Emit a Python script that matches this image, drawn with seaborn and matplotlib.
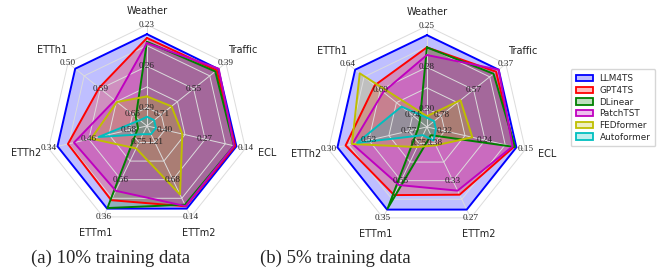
import numpy as np
import pandas as pd
import matplotlib
matplotlib.use("Agg")
import matplotlib.pyplot as plt
import seaborn as sns
from matplotlib.patches import Patch
from matplotlib.colors import to_rgba

datasets = ["Weather", "Traffic", "ECL", "ETTm2", "ETTm1", "ETTh2", "ETTh1"]
models = ["LLM4TS", "GPT4TS", "DLinear", "PatchTST", "FEDformer", "Autoformer"]
colors = ["#0000ff", "#ff0000", "#008000", "#bf00bf", "#bfbf00", "#00bfbf"]

# average MSE per dataset, 10% training data
llm4ts_10 = [0.235, 0.432, 0.172, 0.260, 0.408, 0.366, 0.524]
gpt4ts_10 = [0.238, 0.440, 0.176, 0.293, 0.452, 0.397, 0.590]
dlinear_10 = [0.241, 0.447, 0.180, 0.316, 0.411, 0.605, 0.691]
patchtst_10 = [0.242, 0.430, 0.180, 0.296, 0.501, 0.415, 0.633]
fedformer_10 = [0.284, 0.663, 0.346, 0.463, 0.722, 0.466, 0.639]
autoformer_10 = [0.300, 0.749, 0.431, 1.330, 0.796, 0.488, 0.702]

# average MSE per dataset, 5% training data
llm4ts_5 = [0.256, 0.418, 0.173, 0.286, 0.394, 0.353, 0.651]
gpt4ts_5 = [0.264, 0.434, 0.178, 0.308, 0.472, 0.400, 0.681]
dlinear_5 = [0.264, 0.450, 0.176, 0.396, 0.400, 0.818, 0.750]
patchtst_5 = [0.269, 0.418, 0.181, 0.314, 0.526, 0.439, 0.694]
fedformer_5 = [0.309, 0.656, 0.266, 0.381, 0.730, 0.437, 0.658]
autoformer_5 = [0.310, 0.820, 0.343, 0.388, 0.794, 0.466, 0.722]

sns.set_theme(style="white")
plt.rcParams['font.family'] = ['DejaVu Sans']

rings = [0.2, 0.425, 0.65, 0.875, 1.1]
label_r = [0.2, 0.65, 1.1]


def radar(ax, table):
    vals = np.array(table)
    vmin, vmax = vals.min(axis=0), vals.max(axis=0)
    # lower MSE -> further out, worst model sits at 0.1
    rad = 0.1 + 0.9 * (vmax - vals) / (vmax - vmin)
    theta = np.linspace(0, 2 * np.pi, len(datasets), endpoint=False)
    tc = np.append(theta, theta[0])
    ax.set_theta_offset(np.pi / 2)
    ax.set_theta_direction(-1)

    for g in rings:
        ax.plot(tc, [g] * len(tc), color="#dcdcdc", lw=0.7, zorder=1.5)
    for t in theta:
        ax.plot([t, t], [0, 1.1], color="#dcdcdc", lw=0.7, zorder=1.5)

    rows = []
    for m, rr in zip(models, rad):
        rc = np.append(rr, rr[0])
        for t, r in zip(tc, rc):
            rows.append({"model": m, "theta": t, "r": r})
    df = pd.DataFrame(rows)
    sns.lineplot(data=df, x="theta", y="r", hue="model", hue_order=models,
                 palette=dict(zip(models, colors)), sort=False, estimator=None,
                 legend=False, ax=ax, lw=1.4, zorder=2)
    for m, c in zip(models, colors):
        sub = df[df["model"] == m]
        ax.fill(sub["theta"], sub["r"], color=c, alpha=0.25, lw=0, zorder=1)

    ax.set_ylim(0, 1.1)
    ax.grid(False)
    ax.set_xticks([])
    ax.set_yticks([])
    ax.spines['polar'].set_visible(False)
    ax.set_xlabel("")
    ax.set_ylabel("")

    for i, t in enumerate(theta):
        for r in label_r:
            v = vmax[i] - (r - 0.1) / 0.9 * (vmax[i] - vmin[i])
            ax.text(t, r, f"{v:.2f}", ha="center", va="center", fontsize=6.6,
                    family="Liberation Serif", color="#222222", zorder=5)
        ax.text(t, 1.25 + 0.1 * abs(np.sin(t)), datasets[i], ha="center",
                va="center", fontsize=7, color="#222222", zorder=5)


fig = plt.figure(figsize=(6.62, 2.78), dpi=100)
ax1 = fig.add_axes([0.0695, 0.1835, 0.305, 0.727], projection="polar")
ax2 = fig.add_axes([0.4924, 0.180, 0.305, 0.727], projection="polar")

radar(ax1, [llm4ts_10, gpt4ts_10, dlinear_10, patchtst_10, fedformer_10, autoformer_10])
radar(ax2, [llm4ts_5, gpt4ts_5, dlinear_5, patchtst_5, fedformer_5, autoformer_5])

handles = [Patch(facecolor=to_rgba(c, 0.25), edgecolor=c, lw=1.3, label=m)
           for m, c in zip(models, colors)]
fig.legend(handles=handles, loc="center", bbox_to_anchor=(0.926, 0.612),
           fontsize=6.4, frameon=True, edgecolor="#cccccc", fancybox=True,
           handlelength=2.0, handleheight=0.7, labelspacing=0.3,
           handletextpad=0.7, borderpad=0.55)

fig.text(111 / 662, 0.072, "(a) 10% training data", ha="center", va="center",
         fontsize=13.5, family="Liberation Serif")
fig.text(335 / 662, 0.072, "(b) 5% training data", ha="center", va="center",
         fontsize=13.5, family="Liberation Serif")

fig.savefig("out.png", dpi=100)
